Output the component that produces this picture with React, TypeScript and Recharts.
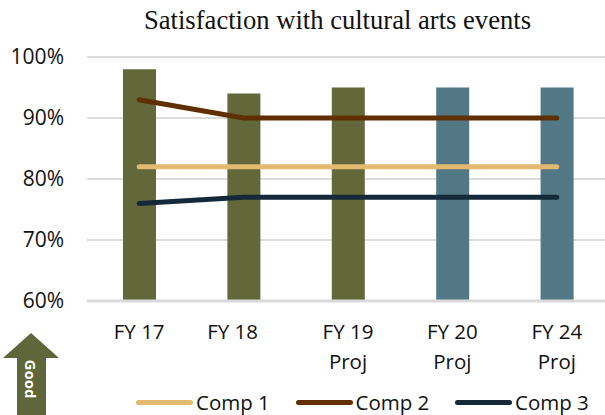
import { Bar, Line, ComposedChart, XAxis, YAxis, CartesianGrid, Cell, Legend } from 'recharts'

const YEARS = ['FY 17', 'FY 18', 'FY 19 Proj', 'FY 20 Proj', 'FY 24 Proj']
const SATISFACTION = [98, 94, 95, 95, 95]
const COMP_1 = [82, 82, 82, 82, 82]
const COMP_2 = [93, 90, 90, 90, 90]
const COMP_3 = [76, 77, 77, 77, 77]
const BAR_COLORS = ['#62683a', '#62683a', '#62683a', '#527885', '#527885']
const Y_TICKS = [60, 70, 80, 90, 100]

const data = YEARS.map((year, i) => ({
  year,
  satisfaction: SATISFACTION[i],
  comp1: COMP_1[i],
  comp2: COMP_2[i],
  comp3: COMP_3[i],
}))

const LABEL_FONT = '"Open Sans", sans-serif'
const LABEL_SIZE = 20.5

const YearTick = ({ x, y, payload }: any) => {
  const parts = payload.value.split(' ')
  // the FY 18 label sits left of its bar in the original
  const tx = payload.value === 'FY 18' ? x - 11 : x
  return (
    <text x={tx} textAnchor="middle" fontFamily={LABEL_FONT} fontSize={LABEL_SIZE} fill="#111">
      <tspan x={tx} y={y + 30}>{parts.slice(0, 2).join(' ')}</tspan>
      {parts[2] && <tspan x={tx} y={y + 60}>{parts[2]}</tspan>}
    </text>
  )
}

const LegendRow = ({ payload }: any) => (
  <div style={{ position: 'relative', height: 30 }}>
    {payload
      .filter((p: any) => p.type !== 'none')
      .map((p: any, i: number) => (
        <div
          key={p.value}
          style={{
            position: 'absolute',
            left: 136 + i * 159.5,
            top: 3,
            display: 'flex',
            alignItems: 'center',
            height: 28,
          }}
        >
          <span style={{ width: 57, height: 5, borderRadius: 3, background: p.color, marginRight: 3 }} />
          <span style={{ fontFamily: LABEL_FONT, fontSize: LABEL_SIZE, color: '#111' }}>{p.value}</span>
        </div>
      ))}
  </div>
)

export default function App() {
  return (
    <div style={{ position: 'absolute', left: 0, top: 0, width: 605, height: 415, overflow: 'hidden', background: '#fff' }}>
      <div
        style={{
          position: 'absolute',
          left: 0,
          right: 0,
          top: 5,
          paddingLeft: 70,
          textAlign: 'center',
          fontFamily: '"Liberation Serif", serif',
          fontSize: 26.6,
          color: '#111',
        }}
      >
        Satisfaction with cultural arts events
      </div>
      <ComposedChart
        width={609}
        height={415}
        data={data}
        margin={{ top: 57, right: 0, bottom: 0, left: 0 }}
        barCategoryGap={0}
      >
        <CartesianGrid horizontal vertical={false} stroke="#dcdcdc" strokeWidth={2} />
        <XAxis
          dataKey="year"
          interval={0}
          height={84}
          tickLine={false}
          axisLine={{ stroke: '#d9d9d9', strokeWidth: 3 }}
          tick={<YearTick />}
        />
        <YAxis
          width={87}
          domain={[60, 100]}
          ticks={Y_TICKS}
          tickFormatter={(v) => `${v}%`}
          axisLine={false}
          tickLine={false}
          tickMargin={17}
          tick={{ fontFamily: LABEL_FONT, fontSize: 21, fill: '#111' }}
        />
        <Legend verticalAlign="bottom" height={30} content={<LegendRow />} />
        <Bar dataKey="satisfaction" barSize={33} legendType="none" isAnimationActive={false}>
          {data.map((d, i) => (
            <Cell key={d.year} fill={BAR_COLORS[i]} />
          ))}
        </Bar>
        <Line dataKey="comp1" name="Comp 1" stroke="#e2b96f" strokeWidth={5} strokeLinecap="round" dot={false} isAnimationActive={false} />
        <Line dataKey="comp2" name="Comp 2" stroke="#5f2f00" strokeWidth={5} strokeLinecap="round" dot={false} isAnimationActive={false} />
        <Line dataKey="comp3" name="Comp 3" stroke="#14293a" strokeWidth={5} strokeLinecap="round" dot={false} isAnimationActive={false} />
      </ComposedChart>
      <svg width={62} height={85} style={{ position: 'absolute', left: 0, top: 330 }}>
        <polygon points="31,3 3,28 17,28 17,85 46,85 46,28 59,28" fill="#5f6639" />
        <text
          transform="translate(25,49) rotate(90)"
          textAnchor="middle"
          fontFamily={LABEL_FONT}
          fontWeight={700}
          fontSize={15}
          fill="#fff"
        >
          Good
        </text>
      </svg>
    </div>
  )
}
